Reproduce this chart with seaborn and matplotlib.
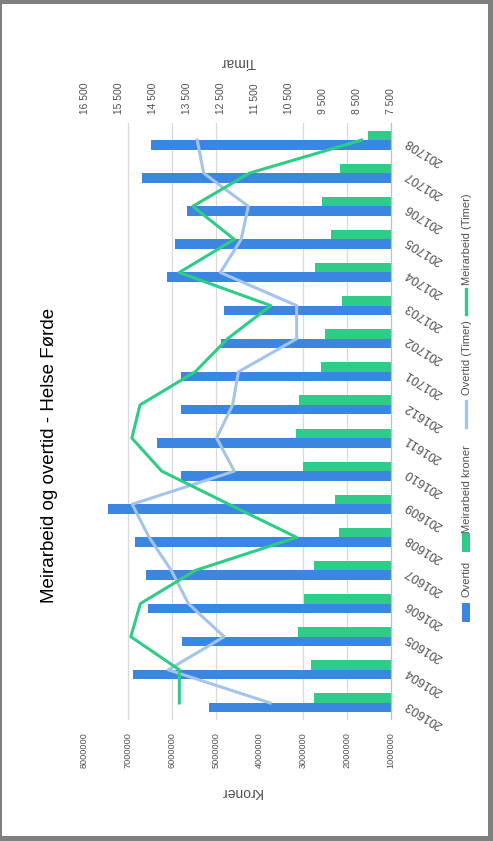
import matplotlib
matplotlib.use("Agg")
import matplotlib.pyplot as plt
import seaborn as sns
import pandas as pd
from matplotlib.patches import Rectangle
from matplotlib.lines import Line2D

# ---------------- data ----------------
periods = ["201603", "201604", "201605", "201606", "201607", "201608", "201609",
           "201610", "201611", "201612", "201701", "201702", "201703", "201704",
           "201705", "201706", "201707", "201708"]
overtid_kr = [5160000, 6890000, 5770000, 6550000, 6600000, 6850000, 7460000,
              5800000, 6350000, 5800000, 5800000, 4880000, 4810000, 6120000,
              5930000, 5660000, 6680000, 6480000]
meirarbeid_kr = [2760000, 2830000, 3120000, 2990000, 2760000, 2190000, 2280000,
                 3010000, 3170000, 3100000, 2600000, 2510000, 2110000, 2740000,
                 2370000, 2580000, 2170000, 1530000]
overtid_timer = [11050, 14040, 12400, 13450, 13950, 14600, 15100, 12100, 12620,
                 12150, 11980, 10270, 10270, 12510, 11900, 11690, 13000, 13190]
meirarbeid_timer = [13715, 13715, 15140, 14860, 13250, 10270, 12260, 14230, 15110,
                    14870, 13250, 12300, 11030, 13720, 12100, 13320, 11660, 8360]

kr_ticks = [1000000, 2000000, 3000000, 4000000, 5000000, 6000000, 7000000, 8000000]
kr_labels = ["1000000", "2000000", "3000000", "4000000", "5000000", "6000000",
             "7000000", "8000000"]
timar_ticks = [7500, 8500, 9500, 10500, 11500, 12500, 13500, 14500, 15500, 16500]
timar_labels = ["7 500", "8 500", "9 500", "10 500", "11 500", "12 500", "13 500",
                "14 500", "15 500", "16 500"]
grid_vals = [2000000, 3000000, 5000000, 6000000, 7000000]

title = "Meirarbeid og overtid - Helse Førde"
series_names = ["Overtid", "Meirarbeid kroner", "Overtid (Timer)", "Meirarbeid (Timer)"]

BLUE = "#3A86E0"
GREEN = "#2ECC87"
LIGHTBLUE = "#A3C4EC"
TXT = "#505050"

# ---------------- figure ----------------
W, H = 493, 841
fig = plt.figure(figsize=(W / 100, H / 100), dpi=100)
fig.patch.set_facecolor("#808080")
fig.patches.append(Rectangle((2 / W, 1 - 836 / H), (488 - 2) / W, (836 - 4) / H,
                             transform=fig.transFigure, facecolor="white",
                             edgecolor="none", zorder=-10))

def fx(x):
    return x / W

def fy(y):
    return 1 - y / H

REG = ["Liberation Sans", "DejaVu Sans"]

ax = fig.add_axes([fx(84.5), fy(719.5), (391 - 84.5) / W, (719.5 - 123.5) / H])
ax.set_facecolor("none")

order = periods[::-1]
df = pd.DataFrame({
    "Periode": periods * 2,
    "Kroner": overtid_kr + meirarbeid_kr,
    "Serie": [series_names[0]] * len(periods) + [series_names[1]] * len(periods),
})
sns.barplot(data=df, y="Periode", x="Kroner", hue="Serie", order=order,
            hue_order=[series_names[1], series_names[0]],
            palette={series_names[0]: BLUE, series_names[1]: GREEN},
            orient="h", width=0.575, saturation=1, linewidth=0, legend=False, ax=ax)

for v in grid_vals:
    ax.axvline(v, color="#D9D9D9", lw=0.9, zorder=0.5)

ax.set_xlim(8000000, 1000000)
ax.set_xticks(kr_ticks)
ax.set_xticklabels(kr_labels, rotation=90, family=REG, fontsize=6.6, color=TXT)
ax.tick_params(axis="x", length=0, pad=9)
ax.yaxis.tick_right()
ax.set_yticks(range(len(order)))
ax.set_yticklabels(order, rotation=148, rotation_mode="anchor", ha="right", va="center",
                   family=REG, fontsize=9, color=TXT)
ax.tick_params(axis="y", length=0, pad=11)
ax.set_xlabel("")
ax.set_ylabel("")
for s in ["left", "top", "bottom"]:
    ax.spines[s].set_visible(False)
ax.spines["right"].set_color("#BFBFBF")
ax.spines["right"].set_linewidth(0.9)

# ---------- lines on secondary (Timar) axis ----------
ax2 = ax.twiny()
pos = [order.index(p) for p in periods]
sns.lineplot(x=overtid_timer, y=pos, orient="y", sort=False, color=LIGHTBLUE, lw=2.2,
             solid_joinstyle="round", ax=ax2)
sns.lineplot(x=meirarbeid_timer, y=pos, orient="y", sort=False, color=GREEN, lw=2.2,
             solid_joinstyle="round", ax=ax2)
ax2.set_xlim(16500, 7500)
ax2.set_xticks(timar_ticks)
ax2.set_xticklabels(timar_labels, rotation=90, family=REG, fontsize=7.4, color=TXT)
ax2.tick_params(axis="x", length=0, pad=7)
ax2.set_xlabel("")
for s in ax2.spines.values():
    s.set_visible(False)
ax.set_ylim(len(order) - 0.5, -0.5)

# ---------- texts ----------
fig.text(fx(50), fy(455), title, rotation=90, ha="center", va="center",
         family=REG, fontsize=13.5, color="#000000")
fig.text(fx(241), fy(792), "Kroner", rotation=180, ha="center", va="center",
         family=REG, fontsize=10, color=TXT)
fig.text(fx(238), fy(62), "Timar", rotation=180, ha="center", va="center",
         family=REG, fontsize=10, color=TXT)

# ---------- legend (rotated) ----------
fig.patches.append(Rectangle((fx(462), fy(622)), 8 / W, 19 / H, transform=fig.transFigure,
                             facecolor=BLUE, edgecolor="none"))
fig.patches.append(Rectangle((fx(462), fy(552)), 8 / W, 19 / H, transform=fig.transFigure,
                             facecolor=GREEN, edgecolor="none"))
fig.lines.append(Line2D([fx(466), fx(466)], [fy(427), fy(401)], transform=fig.transFigure,
                        color=LIGHTBLUE, lw=2.4))
fig.lines.append(Line2D([fx(466), fx(466)], [fy(314), fy(289)], transform=fig.transFigure,
                        color=GREEN, lw=2.4))
leg_pos = [597, 533, 395, 285]
for name, y in zip(series_names, leg_pos):
    fig.text(fx(466.5), fy(y), name, rotation=90, ha="center", va="bottom",
             family=REG, fontsize=8, color=TXT)

fig.savefig("out.png", dpi=100, facecolor=fig.get_facecolor())
